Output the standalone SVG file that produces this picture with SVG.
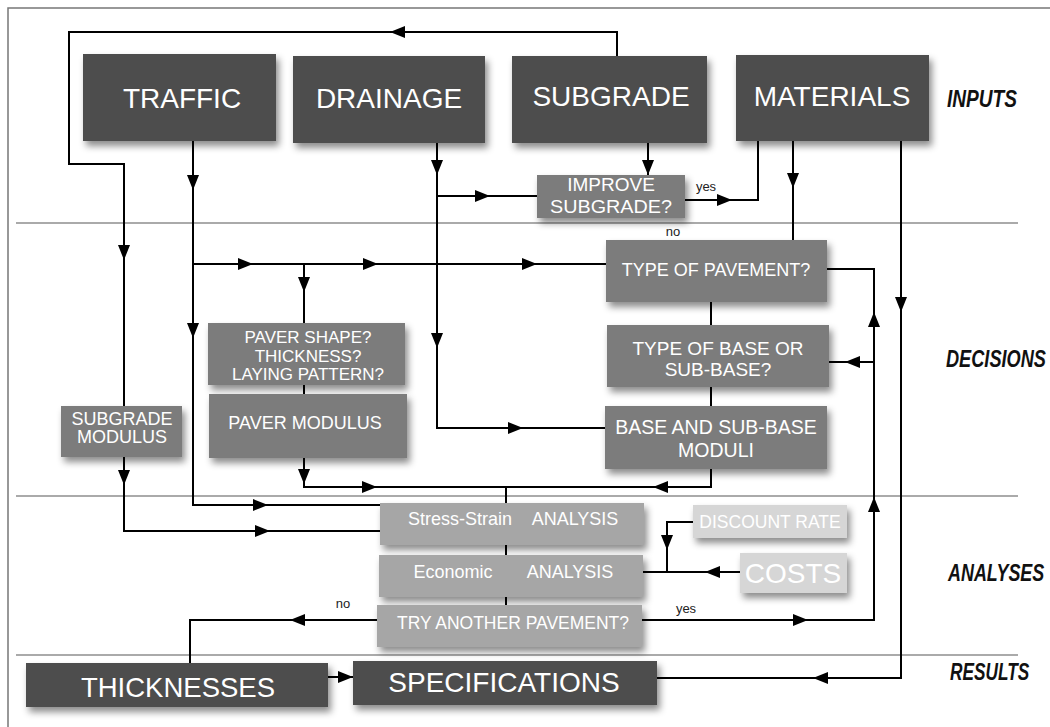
<svg xmlns="http://www.w3.org/2000/svg" width="1050" height="727" viewBox="0 0 1050 727">
<style>
.frame{stroke:#777;stroke-width:1.5;fill:none}
.sep{stroke:#aaa;stroke-width:2;fill:none}
.ln{stroke:#000;stroke-width:2;fill:none}
.dark{fill:#4e4e4e}
.mid{fill:#7c7c7c}
.ana{fill:#a6a6a6}
.lite{fill:#d6d6d6}
.t{font-family:"Liberation Sans",Arial,sans-serif;fill:#fff;text-anchor:middle}
.big{font-size:28px}
.lab{font-family:"Liberation Sans",Arial,sans-serif;font-weight:bold;font-style:italic;font-size:23px;fill:#111}
.yn{font-family:"Liberation Sans",Arial,sans-serif;font-size:13px;fill:#222;text-anchor:middle}
</style>
<defs>
<filter id="sh" x="-10%" y="-20%" width="130%" height="160%">
<feDropShadow dx="3" dy="5" stdDeviation="3.5" flood-color="#000" flood-opacity="0.45"/>
</filter>
<path id="ah" d="M0,0 L-15,-6 L-15,6 Z" fill="#000"/>
</defs>
<rect width="1050" height="727" fill="#fff"/>
<path class="frame" d="M8,727 L8,8 L1050,8"/>
<line class="sep" x1="16" y1="223" x2="1018" y2="223"/>
<line class="sep" x1="16" y1="496" x2="1018" y2="496"/>
<line class="sep" x1="16" y1="655" x2="1018" y2="655"/>

<g id="connectors">
<path class="ln" d="M617,56 L617,32 L69,32 L69,164 L124,164 L124,406"/>
<path class="ln" d="M193,141 L193,505 L380,505"/>
<path class="ln" d="M193,264 L606,264"/>
<path class="ln" d="M304,264 L304,323"/>
<path class="ln" d="M437,143 L437,428 L605,428"/>
<path class="ln" d="M437,196 L537,196"/>
<path class="ln" d="M648,143 L648,175"/>
<path class="ln" d="M685,200 L758,200 L758,141"/>
<path class="ln" d="M793,141 L793,240"/>
<path class="ln" d="M901,141 L901,678 L657,678"/>
<path class="ln" d="M827,269 L874,269 L874,620 L642,620"/>
<path class="ln" d="M874,362 L829,362"/>
<path class="ln" d="M711,302 L711,325 M711,387 L711,406"/>
<path class="ln" d="M304,385 L304,394"/>
<path class="ln" d="M304,458 L304,487 L711,487 L711,469"/>
<path class="ln" d="M506,487 L506,503"/>
<path class="ln" d="M506,545 L506,555 M506,597 L506,605"/>
<path class="ln" d="M124,457 L124,531 L380,531"/>
<path class="ln" d="M693,522 L667,522 L667,572"/>
<path class="ln" d="M740,572 L643,572"/>
<path class="ln" d="M377,620 L190,620 L190,663"/>
<path class="ln" d="M328,677 L353,677"/>
<use href="#ah" transform="translate(390,32) rotate(180)"/>
<use href="#ah" transform="translate(124,260) rotate(90)"/>
<use href="#ah" transform="translate(193,190) rotate(90)"/>
<use href="#ah" transform="translate(193,338) rotate(90)"/>
<use href="#ah" transform="translate(437,175) rotate(90)"/>
<use href="#ah" transform="translate(437,348) rotate(90)"/>
<use href="#ah" transform="translate(490,196)"/>
<use href="#ah" transform="translate(648,175) rotate(90)"/>
<use href="#ah" transform="translate(732,200)"/>
<use href="#ah" transform="translate(793,188) rotate(90)"/>
<use href="#ah" transform="translate(901,312) rotate(90)"/>
<use href="#ah" transform="translate(253,264)"/>
<use href="#ah" transform="translate(378,264)"/>
<use href="#ah" transform="translate(537,264)"/>
<use href="#ah" transform="translate(304,292) rotate(90)"/>
<use href="#ah" transform="translate(523,428)"/>
<use href="#ah" transform="translate(874,312) rotate(-90)"/>
<use href="#ah" transform="translate(845,362) rotate(180)"/>
<use href="#ah" transform="translate(304,484) rotate(90)"/>
<use href="#ah" transform="translate(377,487)"/>
<use href="#ah" transform="translate(653,487) rotate(180)"/>
<use href="#ah" transform="translate(124,485) rotate(90)"/>
<use href="#ah" transform="translate(268,505)"/>
<use href="#ah" transform="translate(270,531)"/>
<use href="#ah" transform="translate(874,497) rotate(-90)"/>
<use href="#ah" transform="translate(667,550) rotate(90)"/>
<use href="#ah" transform="translate(705,572) rotate(180)"/>
<use href="#ah" transform="translate(808,620)"/>
<use href="#ah" transform="translate(290,620) rotate(180)"/>
<use href="#ah" transform="translate(813,678) rotate(180)"/>
<use href="#ah" transform="translate(353,677)"/>
<text class="yn" x="706" y="191">yes</text>
<text class="yn" x="673" y="236">no</text>
<text class="yn" x="343" y="608">no</text>
<text class="yn" x="686" y="613">yes</text>
</g>

<g id="traffic"><rect class="dark" x="83" y="54" width="193" height="87" filter="url(#sh)"/><text class="t big" x="182" y="108">TRAFFIC</text></g>
<g id="drainage"><rect class="dark" x="293" y="56" width="192" height="87" filter="url(#sh)"/><text class="t big" x="389" y="108">DRAINAGE</text></g>
<g id="subgrade"><rect class="dark" x="512" y="56" width="195" height="87" filter="url(#sh)"/><text class="t big" x="611" y="106">SUBGRADE</text></g>
<g id="materials"><rect class="dark" x="736" y="55" width="193" height="86" filter="url(#sh)"/><text class="t big" x="832" y="106">MATERIALS</text></g>

<g id="improve-subgrade"><rect class="mid" x="537" y="175" width="148" height="43" filter="url(#sh)"/><text class="t" font-size="19" x="611" y="191">IMPROVE</text><text class="t" font-size="19" x="611" y="213" textLength="122" lengthAdjust="spacingAndGlyphs">SUBGRADE?</text></g>
<g id="type-of-pavement"><rect class="mid" x="606" y="240" width="221" height="62" filter="url(#sh)"/><text class="t" font-size="18" x="716" y="276">TYPE OF PAVEMENT?</text></g>
<g id="type-of-base"><rect class="mid" x="607" y="325" width="222" height="62" filter="url(#sh)"/><text class="t" font-size="19" x="718" y="355">TYPE OF BASE OR</text><text class="t" font-size="19" x="718" y="376">SUB-BASE?</text></g>
<g id="base-moduli"><rect class="mid" x="605" y="406" width="222" height="63" filter="url(#sh)"/><text class="t" font-size="19.5" x="716" y="434">BASE AND SUB-BASE</text><text class="t" font-size="19.5" x="716" y="457">MODULI</text></g>
<g id="paver-shape"><rect class="mid" x="208" y="323" width="197" height="62" filter="url(#sh)"/><text class="t" font-size="17" x="308" y="343">PAVER SHAPE?</text><text class="t" font-size="17" x="308" y="362">THICKNESS?</text><text class="t" font-size="17" x="308" y="380">LAYING PATTERN?</text></g>
<g id="paver-modulus"><rect class="mid" x="209" y="394" width="198" height="64" filter="url(#sh)"/><text class="t" font-size="18" x="305" y="429">PAVER MODULUS</text></g>
<g id="subgrade-modulus"><rect class="mid" x="61" y="406" width="121" height="51" filter="url(#sh)"/><text class="t" font-size="18" x="122" y="425">SUBGRADE</text><text class="t" font-size="18" x="122" y="443">MODULUS</text></g>

<g id="stress-strain"><rect class="ana" x="380" y="503" width="264" height="42" filter="url(#sh)"/><text class="t" font-size="18" x="460" y="525">Stress-Strain</text><text class="t" font-size="18" x="575" y="525">ANALYSIS</text></g>
<g id="economic"><rect class="ana" x="379" y="555" width="264" height="42" filter="url(#sh)"/><text class="t" font-size="18" x="453" y="578">Economic</text><text class="t" font-size="18" x="570" y="578">ANALYSIS</text></g>
<g id="try-another"><rect class="ana" x="377" y="605" width="265" height="42" filter="url(#sh)"/><text class="t" font-size="17.5" x="513" y="629">TRY ANOTHER PAVEMENT?</text></g>
<g id="discount-rate"><rect class="lite" x="693" y="505" width="154" height="33" filter="url(#sh)"/><text class="t" font-size="17.5" x="770" y="528">DISCOUNT RATE</text></g>
<g id="costs"><rect class="lite" x="740" y="553" width="107" height="40" filter="url(#sh)"/><text class="t big" x="793" y="583">COSTS</text></g>

<g id="thicknesses"><rect class="dark" x="26" y="663" width="302" height="44" filter="url(#sh)"/><text class="t" font-size="27.5" x="178" y="697">THICKNESSES</text></g>
<g id="specifications"><rect class="dark" x="353" y="661" width="304" height="44" filter="url(#sh)"/><text class="t big" x="504" y="692">SPECIFICATIONS</text></g>

<g id="labels">
<text class="lab" transform="translate(947,107) scale(0.83,1)">INPUTS</text>
<text class="lab" transform="translate(946,367) scale(0.79,1)">DECISIONS</text>
<text class="lab" transform="translate(948,581) scale(0.78,1)">ANALYSES</text>
<text class="lab" transform="translate(950,680) scale(0.75,1)">RESULTS</text>
</g>
</svg>
